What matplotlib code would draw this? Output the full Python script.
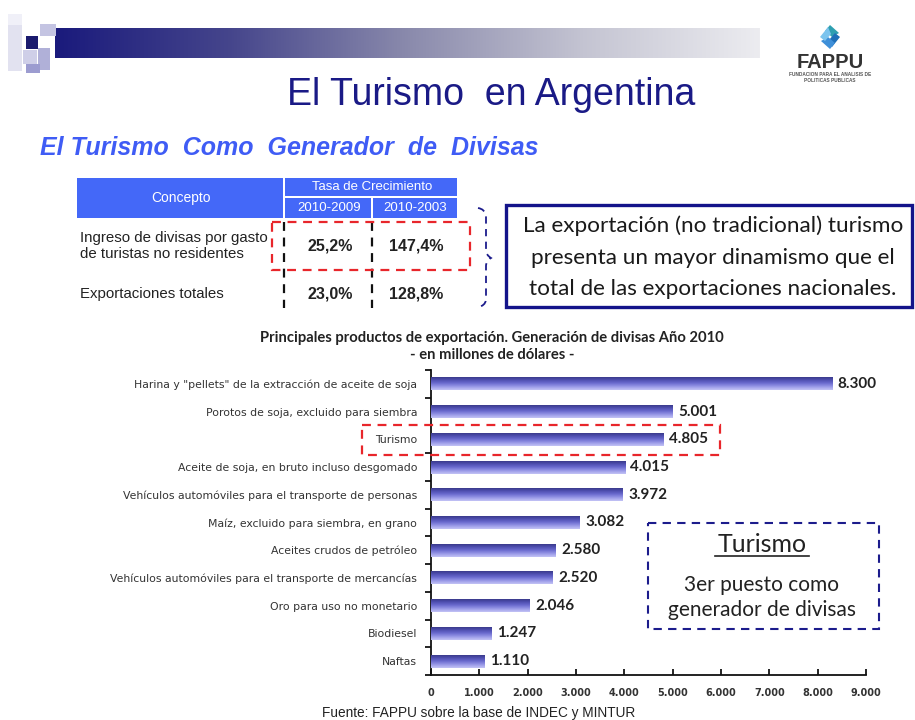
import numpy as np
import matplotlib
matplotlib.use("Agg")
import matplotlib.pyplot as plt
from matplotlib.patches import Rectangle, Polygon
from matplotlib.path import Path
from matplotlib.patches import PathPatch
from matplotlib.colors import LinearSegmentedColormap

# ---------------- data ----------------
categories = [
    'Harina y "pellets" de la extracción de aceite de soja',
    "Porotos de soja, excluido para siembra",
    "Turismo",
    "Aceite de soja, en bruto incluso desgomado",
    "Vehículos automóviles para el transporte de personas",
    "Maíz, excluido para siembra, en grano",
    "Aceites crudos de petróleo",
    "Vehículos automóviles para el transporte de mercancías",
    "Oro para uso no monetario",
    "Biodiesel",
    "Naftas",
]
values = [8300, 5001, 4805, 4015, 3972, 3082, 2580, 2520, 2046, 1247, 1110]
xticks = [0, 1000, 2000, 3000, 4000, 5000, 6000, 7000, 8000, 9000]
xtick_labels = ["0", "1.000", "2.000", "3.000", "4.000", "5.000",
                "6.000", "7.000", "8.000", "9.000"]

table_header = "Concepto"
table_group = "Tasa de Crecimiento"
table_periods = ["2010-2009", "2010-2003"]
table_rows = ["Ingreso de divisas por gasto\nde turistas no residentes",
              "Exportaciones totales"]
table_2009 = ["25,2%", "23,0%"]
table_2003 = ["147,4%", "128,8%"]

W, H = 915, 720
fig = plt.figure(figsize=(W / 100, H / 100), dpi=100)
fig.patch.set_facecolor("white")

# ---------------- bar chart ----------------
ax = fig.add_axes([431 / W, 1 - 675 / H, 435 / W, 305 / H])
ax.set_facecolor("none")
y = np.arange(len(categories))
bars = ax.barh(y, values, height=0.47, color="#7070d2", edgecolor="none", zorder=2)
grad_cmap = LinearSegmentedColormap.from_list(
    "bar", ["#34347e", "#4c4cac", "#6a6ace", "#9696e6", "#c4c4f6"])
grad = np.linspace(0, 1, 64).reshape(-1, 1)
for b in bars:
    x0, y0, bw, bh = b.get_x(), b.get_y(), b.get_width(), b.get_height()
    im = ax.imshow(grad, extent=[x0, x0 + bw, y0 + bh, y0], aspect="auto",
                   cmap=grad_cmap, zorder=3, interpolation="bicubic")
    im.set_clip_path(b)
for yi, v in zip(y, values):
    ax.text(v + 110, yi, f"{v:,}".replace(",", "."), va="center", ha="left",
            fontsize=11, fontfamily="Lato", fontweight="bold", color="#222222")
ax.set_xlim(0, 9000)
ax.set_ylim(len(categories) - 0.5, -0.5)
ax.set_xticks(xticks)
ax.set_xticklabels(xtick_labels, fontsize=7, fontfamily="DejaVu Sans",
                   fontweight="bold", color="#333333")
ax.set_yticks(y)
ax.set_yticklabels(categories, fontsize=7.8, fontfamily="DejaVu Sans", color="#333333")
ax.set_yticks(np.arange(-0.5, len(categories), 1.0), minor=True)
ax.tick_params(axis="y", which="major", length=0, pad=10)
ax.tick_params(axis="y", which="minor", length=4, width=1.2, direction="out")
ax.tick_params(axis="x", which="major", length=4, width=1.2, direction="in", pad=9)
for s in ["top", "right"]:
    ax.spines[s].set_visible(False)
for s in ["left", "bottom"]:
    ax.spines[s].set_linewidth(1.3)
    ax.spines[s].set_color("#111111")

# ---------------- overlay (slide decorations) ----------------
ov = fig.add_axes([0, 0, 1, 1], zorder=5)
ov.set_facecolor("none")
ov.axis("off")

# header gradient bar
hdr_cmap = LinearSegmentedColormap.from_list(
    "hdr", ["#1a1a7c", "#46468c", "#8a8aac", "#c4c4d2", "#ececf0"])
ov.imshow(np.linspace(0, 1, 256).reshape(1, -1), extent=[55, 760, 58, 28],
          aspect="auto", cmap=hdr_cmap, zorder=1)
# decorative squares
squares = [
    (8, 25, 14, 46, "#e2e2f0"), (40, 24, 16, 12, "#c4c4e2"),
    (26, 36, 12, 13, "#1a1a6e"), (23, 50, 14, 14, "#cfcfe8"),
    (38, 48, 12, 22, "#b0b0d8"), (26, 64, 14, 9, "#9c9cd0"),
    (8, 14, 14, 11, "#f0f0f8"),
]
for (sx, sy, sw, sh, c) in squares:
    ov.add_patch(Rectangle((sx, sy), sw, sh, facecolor=c, edgecolor="none", zorder=2))

# logo
cx, cy = 830, 37
petals = [
    ([(cx, cy - 12), (cx + 9, cy - 4), (cx + 2, cy), (cx - 5, cy - 6)], "#2e9fb0"),
    ([(cx + 10, cy), (cx + 2, cy + 10), (cx - 1, cy + 3), (cx + 5, cy - 4)], "#1e6fb8"),
    ([(cx, cy + 12), (cx - 9, cy + 4), (cx - 2, cy), (cx + 5, cy + 6)], "#3e8fd8"),
    ([(cx - 10, cy), (cx - 2, cy - 10), (cx + 1, cy - 3), (cx - 5, cy + 4)], "#7cc4ee"),
]
for pts, c in petals:
    ov.add_patch(Polygon(pts, closed=True, facecolor=c, edgecolor="none", zorder=3))
ov.text(830, 62, "FAPPU", ha="center", va="center", fontsize=14.5,
        fontfamily="Liberation Sans", fontweight="bold", color="#333333")
ov.text(830, 75, "FUNDACION PARA EL ANALISIS DE", ha="center", va="center",
        fontsize=3.4, fontfamily="Liberation Sans", fontweight="bold", color="#555555")
ov.text(830, 80, "POLITICAS PUBLICAS", ha="center", va="center",
        fontsize=3.4, fontfamily="Liberation Sans", fontweight="bold", color="#555555")

# titles
ov.text(491, 95, "El Turismo  en Argentina", ha="center", va="center", fontsize=27,
        fontfamily="Liberation Sans", color="#1a1a86")
ov.text(40, 148, "El Turismo  Como  Generador  de  Divisas", ha="left", va="center",
        fontsize=18, fontfamily="Liberation Sans", fontweight="bold",
        fontstyle="italic", color="#3f5cf5")

# table header
tblue = "#4468f8"
ov.add_patch(Rectangle((77, 178), 206, 40, facecolor=tblue, edgecolor="none"))
ov.add_patch(Rectangle((285, 178), 172, 18, facecolor=tblue, edgecolor="none"))
ov.add_patch(Rectangle((285, 198), 86, 20, facecolor=tblue, edgecolor="none"))
ov.add_patch(Rectangle((373, 198), 84, 20, facecolor=tblue, edgecolor="none"))
tf = dict(fontfamily="Liberation Sans", color="white", ha="center", va="center")
ov.text(181, 198, table_header, fontsize=10, **tf)
ov.text(372, 187, table_group, fontsize=9.5, **tf)
ov.text(329, 208, table_periods[0], fontsize=9.5, **tf)
ov.text(415, 208, table_periods[1], fontsize=9.5, **tf)
row_y = [246, 294]
for ry, lab, a, b in zip(row_y, table_rows, table_2009, table_2003):
    ov.text(80, ry, lab, fontsize=10.8, fontfamily="Liberation Sans", color="#222222",
            ha="left", va="center", linespacing=1.25)
    ov.text(330, ry, a, fontsize=11.5, fontfamily="Liberation Sans", fontweight="bold",
            color="#222222", ha="center", va="center")
    ov.text(416, ry, b, fontsize=11.5, fontfamily="Liberation Sans", fontweight="bold",
            color="#222222", ha="center", va="center")
for lx in [284, 372]:
    ov.plot([lx, lx], [222, 308], color="#111111", lw=1.6, ls=(0, (4, 3)))
ov.add_patch(Rectangle((272, 222), 198, 48, facecolor="none", edgecolor="#e8262b",
                       lw=1.6, ls=(0, (4, 3)), zorder=6))
# brace
brace = Path([(478, 208), (485, 209), (486, 216), (486, 250), (486, 255), (491, 258),
              (486, 261), (486, 266), (486, 300), (485, 306), (478, 307)],
             [Path.MOVETO, Path.CURVE3, Path.CURVE3, Path.LINETO, Path.CURVE3, Path.CURVE3,
              Path.CURVE3, Path.CURVE3, Path.LINETO, Path.CURVE3, Path.CURVE3])
ov.add_patch(PathPatch(brace, facecolor="none", edgecolor="#1c1c8c", lw=1.3,
                       ls=(0, (4, 3))))

# text box
ov.add_patch(Rectangle((506, 205), 406, 102, facecolor="white", edgecolor="#14148a",
                       lw=2.4))
box_lines = ["La exportación (no tradicional) turismo",
             "presenta un mayor dinamismo que el",
             "total de las exportaciones nacionales."]
for ly, t in zip([226, 258, 289], box_lines):
    ov.text(713, ly, t, ha="center", va="center", fontsize=16.2, fontfamily="Lato",
            color="#1a1a1a")

# chart title
ov.text(492, 338, "Principales productos de exportación. Generación de divisas Año 2010",
        ha="center", va="center", fontsize=10.6, fontfamily="Lato", fontweight="bold",
        color="#222222")
ov.text(492, 355, "- en millones de dólares -", ha="center", va="center", fontsize=10.6,
        fontfamily="Lato", fontweight="bold", color="#222222")

# highlight of Turismo row
ov.add_patch(Rectangle((362, 425), 358, 30, facecolor="none", edgecolor="#e8262b",
                       lw=1.6, ls=(0, (4, 3)), zorder=6))

# Turismo box
ov.add_patch(Rectangle((648, 523), 231, 106, facecolor="white", edgecolor="#1c1c8c",
                       lw=1.5, ls=(0, (4, 3))))
ov.text(762, 544, "Turismo", ha="center", va="center", fontsize=18, fontfamily="Lato",
        color="#222222")
ov.plot([715, 809], [556, 556], color="#222222", lw=1.2)
ov.text(762, 585, "3er puesto como", ha="center", va="center", fontsize=15,
        fontfamily="Lato", color="#222222")
ov.text(762, 610, "generador de divisas", ha="center", va="center", fontsize=15,
        fontfamily="Lato", color="#222222")

# source
ov.text(322, 713, "Fuente: FAPPU sobre la base de INDEC y MINTUR", ha="left",
        va="center", fontsize=9.8, fontfamily="Liberation Sans", color="#222222")

ov.set_xlim(0, W)
ov.set_ylim(H, 0)

fig.savefig("out.png", dpi=100)
